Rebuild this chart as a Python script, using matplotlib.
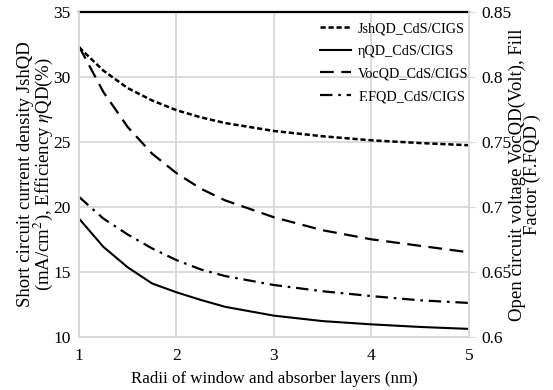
import matplotlib
matplotlib.use('Agg')
from matplotlib import pyplot as plt

# radii (nm)
r = [1, 1.25, 1.5, 1.75, 2, 2.25, 2.5, 3, 3.5, 4, 4.5, 5]

# left axis
jsh = [32.3, 30.5, 29.15, 28.2, 27.45, 26.9, 26.46, 25.85, 25.44, 25.13, 24.92, 24.75]
eta = [19.1, 16.92, 15.34, 14.1, 13.42, 12.83, 12.3, 11.62, 11.2, 10.95, 10.75, 10.6]

# right axis
voc = [0.8236, 0.7885, 0.7615, 0.741, 0.726, 0.714, 0.705, 0.692, 0.682, 0.675, 0.670, 0.665]
ff = [0.7077, 0.691, 0.6787, 0.668, 0.659, 0.6518, 0.6467, 0.6398, 0.635, 0.6313, 0.628, 0.626]

labels = ['JshQD_CdS/CIGS', 'ηQD_CdS/CIGS', 'VocQD_CdS/CIGS', 'F.FQD_CdS/CIGS']

plt.rcParams['font.family'] = ['Liberation Serif', 'DejaVu Serif']
plt.rcParams['mathtext.fontset'] = 'stix'

fig = plt.figure(figsize=(5.53, 3.9), dpi=100)
ax = fig.add_axes([0.1429, 0.1367, 0.705, 0.832])
ax2 = ax.twinx()

grid_c = '#d9d9d9'
l1, = ax.plot(r, jsh, color='black', lw=1.8, linestyle=(0, (2.1, 1.1)), label=labels[0])
l2, = ax.plot(r, eta, color='black', lw=1.5, linestyle='solid', label=labels[1])
l3, = ax2.plot(r, voc, color='black', lw=1.6, linestyle=(0, (6.2, 3.4)), label=labels[2])
l4, = ax2.plot(r, ff, color='black', lw=1.6, linestyle=(0, (5.6, 2.6, 1.2, 2.6)), label=labels[3])

ax.set_xlim(1, 5)
ax.set_ylim(10, 35)
ax2.set_ylim(0.6, 0.85)
ax.set_xticks([1, 2, 3, 4, 5])
ax.set_yticks([10, 15, 20, 25, 30, 35])
ax2.set_yticks([0.6, 0.65, 0.7, 0.75, 0.8, 0.85])
ax2.set_yticklabels(['0.6', '0.65', '0.7', '0.75', '0.8', '0.85'])

ax.grid(True, color=grid_c, lw=1.3)
ax.set_axisbelow(True)
for s in ['left', 'bottom', 'right']:
    ax.spines[s].set_color(grid_c)
    ax2.spines[s].set_color(grid_c)
    ax.spines[s].set_linewidth(1.3)
    ax2.spines[s].set_linewidth(1.3)
ax.spines['top'].set_color('black')
ax.spines['top'].set_linewidth(1.6)
ax2.spines['top'].set_visible(False)

ax.tick_params(axis='both', length=0, labelsize=12.5, pad=6)
ax.tick_params(axis='x', pad=8)
ax2.tick_params(axis='y', length=4, color=grid_c, labelsize=12.5, pad=5)

ax.set_xlabel('Radii of window and absorber layers (nm)', fontsize=12.2, labelpad=5)
ax.set_ylabel('Short circuit current density JshQD\n(mA/cm$^2$), Efficiency $\\eta$QD(%)',
              fontsize=13.5, linespacing=0.85, labelpad=-1)
ax2.set_ylabel('Open circuit voltage VocQD(Volt), Fill\nFactor (F.FQD )',
               fontsize=13.5, linespacing=0.85, labelpad=-2)

leg = ax.legend(handles=[l1, l2, l3, l4], loc='upper right', frameon=False,
                fontsize=10.2, handlelength=2.2, handletextpad=0.5,
                labelspacing=0.68, borderaxespad=0.3, bbox_to_anchor=(1.025, 1.0))

fig.savefig('out.png', dpi=100)
